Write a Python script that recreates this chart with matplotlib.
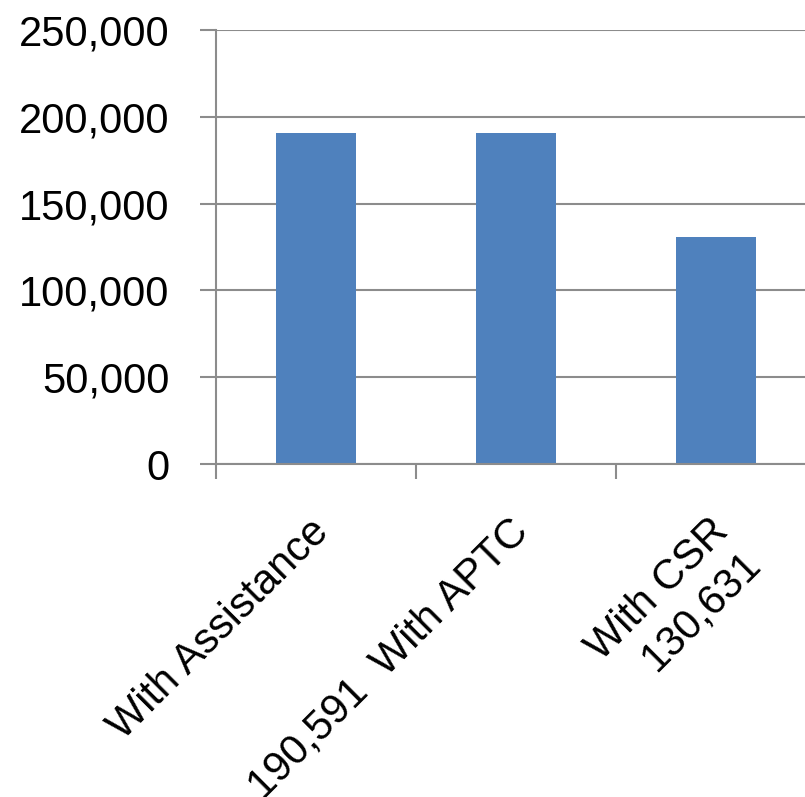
import matplotlib
matplotlib.use("Agg")
import matplotlib.pyplot as plt
import matplotlib.transforms as mtransforms
from matplotlib.ticker import FuncFormatter

categories = ["With Assistance", "190,591  With APTC", "With CSR\n130,631"]
values = [190591, 190591, 130631]
yticks = [0, 50000, 100000, 150000, 200000, 250000]

plt.rcParams['font.family'] = ['Liberation Sans', 'DejaVu Sans']

fig = plt.figure(figsize=(8.05, 7.97), dpi=100)
ax = fig.add_axes([216 / 805, 333 / 797, 600 / 805, 434 / 797])

x = range(len(categories))
ax.bar(x, values, width=0.4, color="#4F81BD", zorder=3)

ax.set_xlim(-0.5, 2.5)
ax.set_ylim(0, 250000)
ax.set_yticks(yticks)
ax.yaxis.set_major_formatter(FuncFormatter(lambda v, p: "{:,.0f}".format(v)))
ax.grid(axis="y", color="#8c8c8c", linewidth=1.5, zorder=0)

for s in ["top", "right"]:
    ax.spines[s].set_visible(False)
for s in ["left", "bottom"]:
    ax.spines[s].set_color("#8c8c8c")
    ax.spines[s].set_linewidth(1.5)
    ax.spines[s].set_zorder(4)

ax.tick_params(axis="y", length=11.5, width=1.5, color="#8c8c8c", labelsize=30, pad=22)

# category labels at centres, tick marks at boundaries
ax.set_xticks(list(x))
ax.set_xticks([-0.5, 0.5, 1.5, 2.5], minor=True)
ax.tick_params(axis="x", which="major", length=0, labelsize=30, pad=34)
ax.tick_params(axis="x", which="minor", length=11, width=1.5, color="#8c8c8c")
ax.set_xticklabels(categories, rotation=45, ha="right", va="top", rotation_mode="anchor")

offset = mtransforms.ScaledTranslation(-8 / 100, 0, fig.dpi_scale_trans)
for lbl in ax.get_xticklabels():
    lbl.set_transform(lbl.get_transform() + offset)

fig.savefig("out.png", dpi=100)
